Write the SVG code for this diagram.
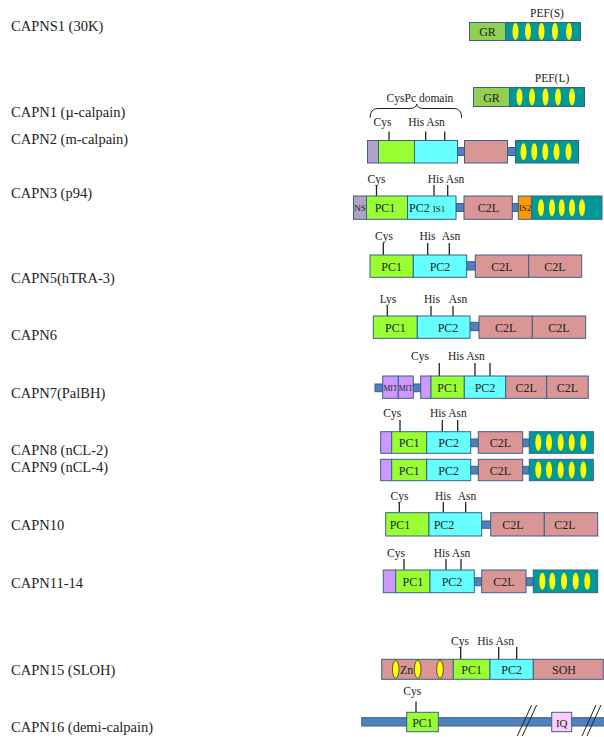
<svg xmlns="http://www.w3.org/2000/svg" width="604" height="737" viewBox="0 0 604 737" font-family="Liberation Serif, DejaVu Serif, serif">
<style>
text{font-family:"Liberation Serif","DejaVu Serif",serif;fill:#222}
.lbl{font-size:14.5px}
.site{font-size:11.5px;text-anchor:middle}
.dom{font-size:12px;text-anchor:middle;dominant-baseline:central}
.sm{font-size:9px;text-anchor:middle;dominant-baseline:central}
rect{stroke:#3a5f8f;stroke-width:1}
.gr{fill:#92d050}.teal{fill:#009999}.pc1{fill:#99ff33}.pc2{fill:#66ffff}.c2l{fill:#d99694}
.lk{fill:#4f81bd}.pu{fill:#b3a2c7}.vi{fill:#cc99ff}.or{fill:#ff9900}.iq{fill:#ffccff}
.ef{fill:#ffff00;stroke:none}
.zn{fill:#ffff00;stroke:#333;stroke-width:0.8}
.tk{stroke:#222;stroke-width:1.3}
</style>
<defs>
<g id="ef5"><ellipse class="ef" cx="0" cy="0" rx="3" ry="8.5"/></g>
</defs>

<g id="labels">
<text class="lbl" x="11" y="31">CAPNS1 (30K)</text>
<text class="lbl" x="11" y="117">CAPN1 (µ-calpain)</text>
<text class="lbl" x="11" y="144">CAPN2 (m-calpain)</text>
<text class="lbl" x="11" y="198">CAPN3 (p94)</text>
<text class="lbl" x="11" y="283">CAPN5(hTRA-3)</text>
<text class="lbl" x="11" y="340">CAPN6</text>
<text class="lbl" x="11" y="398">CAPN7(PalBH)</text>
<text class="lbl" x="11" y="455">CAPN8 (nCL-2)</text>
<text class="lbl" x="11" y="472">CAPN9 (nCL-4)</text>
<text class="lbl" x="11" y="530">CAPN10</text>
<text class="lbl" x="11" y="588">CAPN11-14</text>
<text class="lbl" x="11" y="675">CAPN15 (SLOH)</text>
<text class="lbl" x="11" y="732">CAPN16 (demi-calpain)</text>
</g>

<g id="capns1">
<text class="site" x="547" y="17">PEF(S)</text>
<rect class="gr" x="469.5" y="22.5" width="36" height="18"/>
<rect class="teal" x="505.5" y="22.5" width="75" height="18"/>
<text class="dom" x="487.5" y="32">GR</text>
<use href="#ef5" x="515.5" y="31.5"/><use href="#ef5" x="528" y="31.5"/><use href="#ef5" x="541.5" y="31.5"/><use href="#ef5" x="555" y="31.5"/><use href="#ef5" x="569" y="31.5"/>
</g>

<g id="capn1">
<text class="site" x="552" y="82">PEF(L)</text>
<rect class="gr" x="473.5" y="87.5" width="36" height="19"/>
<rect class="teal" x="509.5" y="87.5" width="75" height="19"/>
<text class="dom" x="491.5" y="97.5">GR</text>
<use href="#ef5" x="519.5" y="97"/><use href="#ef5" x="532" y="97"/><use href="#ef5" x="545.5" y="97"/><use href="#ef5" x="558" y="97"/><use href="#ef5" x="572" y="97"/>
</g>

<g id="capn2">
<text class="site" x="420" y="102">CysPc domain</text>
<path d="M370,118 Q370,108.5 378,108.5 L409,108.5 Q416.5,108.5 416.7,104 Q417,108.5 424,108.5 L454,108.5 Q461.7,108.5 461.7,118" fill="none" stroke="#222" stroke-width="1"/>
<text class="site" x="382.5" y="126">Cys</text>
<text class="site" x="426.5" y="126">His Asn</text>
<line class="tk" x1="389" y1="131.5" x2="389" y2="140.5"/>
<line class="tk" x1="425.7" y1="131.5" x2="425.7" y2="140.5"/>
<line class="tk" x1="444.7" y1="131.5" x2="444.7" y2="140.5"/>
<rect class="lk" x="457.5" y="147.5" width="7" height="8"/>
<rect class="lk" x="507.5" y="147.5" width="8" height="8"/>
<rect class="pu" x="367.5" y="140.5" width="11" height="22.5"/>
<rect class="pc1" x="378.5" y="140.5" width="36" height="22.5"/>
<rect class="pc2" x="414.5" y="140.5" width="43" height="22.5"/>
<rect class="c2l" x="464.5" y="140.5" width="43" height="22.5"/>
<rect class="teal" x="515.5" y="140.5" width="63" height="22.5"/>
<use href="#ef5" x="523.5" y="151.7"/><use href="#ef5" x="534.3" y="151.7"/><use href="#ef5" x="545.3" y="151.7"/><use href="#ef5" x="556.5" y="151.7"/><use href="#ef5" x="568.5" y="151.7"/>
</g>

<g id="capn3">
<text class="site" x="376.5" y="182.5">Cys</text>
<text class="site" x="446" y="182.5">His Asn</text>
<line class="tk" x1="376.5" y1="185" x2="376.5" y2="196"/>
<line class="tk" x1="434" y1="185" x2="434" y2="196"/>
<line class="tk" x1="447.7" y1="185" x2="447.7" y2="196"/>
<rect class="lk" x="456" y="203.5" width="8" height="8"/>
<rect class="lk" x="512.3" y="203.5" width="6" height="8"/>
<rect class="pu" x="353.5" y="196" width="13" height="23.3"/>
<rect class="pc1" x="366.5" y="196" width="41" height="23.3"/>
<rect class="pc2" x="407.5" y="196" width="48.5" height="23.3"/>
<rect class="c2l" x="464" y="196" width="48.3" height="23.3"/>
<rect class="or" x="518.3" y="196" width="13.4" height="23.3"/>
<rect class="teal" x="531.7" y="196" width="70.3" height="23.3"/>
<text class="sm" x="360" y="208">NS</text>
<text class="dom" x="385" y="208">PC1</text>
<text x="409" y="212" style="font-size:12px">PC2 <tspan style="font-size:9px">IS1</tspan></text>
<text class="dom" x="488.3" y="208">C2L</text>
<text class="sm" x="525" y="208">IS2</text>
<use href="#ef5" x="541" y="207.7"/><use href="#ef5" x="552" y="207.7"/><use href="#ef5" x="561.7" y="207.7"/><use href="#ef5" x="572" y="207.7"/><use href="#ef5" x="582" y="207.7"/>
</g>

<g id="capn5">
<text class="site" x="384" y="240">Cys</text>
<text class="site" x="427.5" y="240">His</text>
<text class="site" x="451" y="240">Asn</text>
<line class="tk" x1="383.3" y1="243" x2="383.3" y2="255"/>
<line class="tk" x1="427.7" y1="243" x2="427.7" y2="255"/>
<line class="tk" x1="449.3" y1="243" x2="449.3" y2="255"/>
<rect class="lk" x="466.7" y="261.7" width="8.6" height="8.3"/>
<rect class="pc1" x="370" y="255" width="43.3" height="22.3"/>
<rect class="pc2" x="413.3" y="255" width="53.4" height="22.3"/>
<rect class="c2l" x="475.3" y="255" width="53.4" height="22.3"/>
<rect class="c2l" x="528.7" y="255" width="53" height="22.3"/>
<text class="dom" x="391.7" y="266.5">PC1</text>
<text class="dom" x="440" y="266.5">PC2</text>
<text class="dom" x="502" y="266.5">C2L</text>
<text class="dom" x="555" y="266.5">C2L</text>
</g>

<g id="capn6">
<text class="site" x="388" y="303">Lys</text>
<text class="site" x="432" y="303">His</text>
<text class="site" x="458" y="303">Asn</text>
<line class="tk" x1="387.3" y1="306" x2="387.3" y2="316"/>
<line class="tk" x1="431" y1="306" x2="431" y2="316"/>
<line class="tk" x1="453" y1="306" x2="453" y2="316"/>
<rect class="lk" x="470" y="322.3" width="9" height="8.4"/>
<rect class="pc1" x="373.3" y="316" width="44" height="22.3"/>
<rect class="pc2" x="417.3" y="316" width="52.7" height="22.3"/>
<rect class="c2l" x="479" y="316" width="53.3" height="22.3"/>
<rect class="c2l" x="532.3" y="316" width="53.4" height="22.3"/>
<text class="dom" x="395.3" y="327.5">PC1</text>
<text class="dom" x="448" y="327.5">PC2</text>
<text class="dom" x="505.7" y="327.5">C2L</text>
<text class="dom" x="559" y="327.5">C2L</text>
</g>

<g id="capn7">
<text class="site" x="420" y="360">Cys</text>
<text class="site" x="466.3" y="360">His Asn</text>
<line class="tk" x1="439.3" y1="363" x2="439.3" y2="376"/>
<line class="tk" x1="475" y1="363" x2="475" y2="376"/>
<line class="tk" x1="490" y1="363" x2="490" y2="376"/>
<rect class="lk" x="375" y="384" width="7.7" height="7.7"/>
<rect class="lk" x="413.3" y="384" width="7.4" height="7.7"/>
<rect class="vi" x="382.7" y="376" width="15.6" height="22.3"/>
<rect class="vi" x="398.3" y="376" width="15" height="22.3"/>
<rect class="vi" x="420.7" y="376" width="10.3" height="22.3"/>
<rect class="pc1" x="431" y="376" width="33.3" height="22.3"/>
<rect class="pc2" x="464.3" y="376" width="41.4" height="22.3"/>
<rect class="c2l" x="505.7" y="376" width="41" height="22.3"/>
<rect class="c2l" x="546.7" y="376" width="41.6" height="22.3"/>
<text x="383.5" y="390.5" style="font-size:9px" textLength="14" lengthAdjust="spacingAndGlyphs">MIT</text>
<text x="398.8" y="390.5" style="font-size:9px" textLength="14" lengthAdjust="spacingAndGlyphs">MIT</text>
<text class="dom" x="447.7" y="387.5">PC1</text>
<text class="dom" x="485" y="387.5">PC2</text>
<text class="dom" x="526.2" y="387.5">C2L</text>
<text class="dom" x="567.5" y="387.5">C2L</text>
</g>

<g id="capn8">
<text class="site" x="392.3" y="417">Cys</text>
<text class="site" x="448.3" y="417">His Asn</text>
<line class="tk" x1="400" y1="420" x2="400" y2="431.7"/>
<line class="tk" x1="442.3" y1="420" x2="442.3" y2="431.7"/>
<line class="tk" x1="457.7" y1="420" x2="457.7" y2="431.7"/>
<rect class="lk" x="470.7" y="439" width="7.6" height="7.7"/>
<rect class="lk" x="522.7" y="439" width="6.6" height="7.7"/>
<rect class="vi" x="380.7" y="431.7" width="11" height="21.6"/>
<rect class="pc1" x="391.7" y="431.7" width="35" height="21.6"/>
<rect class="pc2" x="426.7" y="431.7" width="44" height="21.6"/>
<rect class="c2l" x="478.3" y="431.7" width="44.4" height="21.6"/>
<rect class="teal" x="529.3" y="431.7" width="64" height="21.6"/>
<text class="dom" x="409.2" y="443">PC1</text>
<text class="dom" x="448.7" y="443">PC2</text>
<text class="dom" x="500.5" y="443">C2L</text>
<use href="#ef5" x="538.3" y="442.5"/><use href="#ef5" x="549" y="442.5"/><use href="#ef5" x="560.7" y="442.5"/><use href="#ef5" x="571.7" y="442.5"/><use href="#ef5" x="583.3" y="442.5"/>
</g>

<g id="capn9">
<rect class="lk" x="470.7" y="466.3" width="7.6" height="7.7"/>
<rect class="lk" x="522.7" y="466.3" width="6.6" height="7.7"/>
<rect class="vi" x="380.7" y="459.3" width="11" height="21.4"/>
<rect class="pc1" x="391.7" y="459.3" width="35" height="21.4"/>
<rect class="pc2" x="426.7" y="459.3" width="44" height="21.4"/>
<rect class="c2l" x="478.3" y="459.3" width="44.4" height="21.4"/>
<rect class="teal" x="529.3" y="459.3" width="64" height="21.4"/>
<text class="dom" x="409.2" y="470.5">PC1</text>
<text class="dom" x="448.7" y="470.5">PC2</text>
<text class="dom" x="500.5" y="470.5">C2L</text>
<use href="#ef5" x="538.3" y="470"/><use href="#ef5" x="549" y="470"/><use href="#ef5" x="560.7" y="470"/><use href="#ef5" x="571.7" y="470"/><use href="#ef5" x="583.3" y="470"/>
</g>

<g id="capn10">
<text class="site" x="399.5" y="499.5">Cys</text>
<text class="site" x="443" y="499.5">His</text>
<text class="site" x="467" y="499.5">Asn</text>
<line class="tk" x1="399.3" y1="502" x2="399.3" y2="512.7"/>
<line class="tk" x1="443.3" y1="502" x2="443.3" y2="512.7"/>
<line class="tk" x1="465.7" y1="502" x2="465.7" y2="512.7"/>
<rect class="lk" x="481.7" y="521" width="9" height="7.3"/>
<rect class="pc1" x="385.7" y="512.7" width="43.3" height="23.3"/>
<rect class="pc2" x="429" y="512.7" width="52.7" height="23.3"/>
<rect class="c2l" x="490.7" y="512.7" width="53.6" height="23.3"/>
<rect class="c2l" x="544.3" y="512.7" width="53.4" height="23.3"/>
<text class="dom" x="400" y="524.5">PC1</text>
<text class="dom" x="444" y="524.5">PC2</text>
<text class="dom" x="513" y="524.5">C2L</text>
<text class="dom" x="565" y="524.5">C2L</text>
</g>

<g id="capn11">
<text class="site" x="396" y="557">Cys</text>
<text class="site" x="452" y="557">His Asn</text>
<line class="tk" x1="404" y1="559" x2="404" y2="570"/>
<line class="tk" x1="446" y1="559" x2="446" y2="570"/>
<line class="tk" x1="461" y1="559" x2="461" y2="570"/>
<rect class="lk" x="474.3" y="577.7" width="7.4" height="8"/>
<rect class="lk" x="526" y="577.7" width="7.3" height="8"/>
<rect class="vi" x="383.3" y="570" width="12.4" height="22.7"/>
<rect class="pc1" x="395.7" y="570" width="34.3" height="22.7"/>
<rect class="pc2" x="430" y="570" width="44.3" height="22.7"/>
<rect class="c2l" x="481.7" y="570" width="44.3" height="22.7"/>
<rect class="teal" x="533.3" y="570" width="64.4" height="22.7"/>
<text class="dom" x="412.8" y="581.5">PC1</text>
<text class="dom" x="452" y="581.5">PC2</text>
<text class="dom" x="503.8" y="581.5">C2L</text>
<use href="#ef5" x="542.3" y="581.3"/><use href="#ef5" x="552.3" y="581.3"/><use href="#ef5" x="564" y="581.3"/><use href="#ef5" x="575.7" y="581.3"/><use href="#ef5" x="587.3" y="581.3"/>
</g>

<g id="capn15">
<text class="site" x="460" y="645">Cys</text>
<text class="site" x="495.7" y="645">His Asn</text>
<line class="tk" x1="460.7" y1="647" x2="460.7" y2="659.3"/>
<line class="tk" x1="498.7" y1="647" x2="498.7" y2="659.3"/>
<line class="tk" x1="516.7" y1="647" x2="516.7" y2="659.3"/>
<rect class="c2l" x="381.7" y="659.3" width="71.6" height="20"/>
<rect class="pc1" x="453.3" y="659.3" width="36.7" height="20"/>
<rect class="pc2" x="490" y="659.3" width="43.3" height="20"/>
<rect class="c2l" x="533.3" y="659.3" width="70" height="20"/>
<ellipse class="zn" cx="395.7" cy="669.3" rx="3.3" ry="9"/>
<ellipse class="zn" cx="417.7" cy="669.3" rx="3.3" ry="9"/>
<ellipse class="zn" cx="440" cy="669.3" rx="3.3" ry="9"/>
<text class="dom" x="406.7" y="670">Zn</text>
<text class="dom" x="471.7" y="670">PC1</text>
<text class="dom" x="511.7" y="670">PC2</text>
<text class="dom" x="564" y="670">SOH</text>
</g>

<g id="capn16">
<text class="site" x="412.3" y="695">Cys</text>
<line class="tk" x1="416" y1="701.5" x2="416" y2="712.3"/>
<rect class="lk" x="361.7" y="717.7" width="244" height="8.3"/>
<rect class="pc1" x="406.7" y="712.3" width="31.6" height="19.4"/>
<rect class="iq" x="551.7" y="712.3" width="20" height="19.4"/>
<text class="dom" x="422.5" y="722.5">PC1</text>
<text class="dom" x="561.7" y="722.5" style="font-size:11px">IQ</text>
<g stroke="#222" stroke-width="1">
<line x1="517.3" y1="736" x2="531.7" y2="705"/>
<line x1="522.3" y1="736" x2="536.7" y2="705"/>
<line x1="582" y1="736" x2="596" y2="705"/>
<line x1="587" y1="736" x2="601" y2="705"/>
</g>
</g>
</svg>
